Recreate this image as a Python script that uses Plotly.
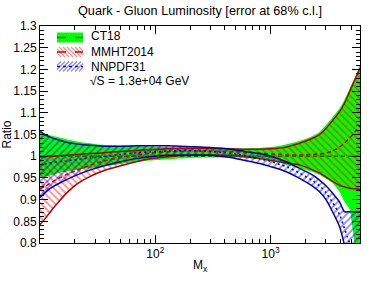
import plotly.graph_objects as go

# ---------------- data ----------------
mass_ct18 = [10, 12, 14.3, 17, 21, 27, 36, 50, 70, 90, 130, 200, 300, 450, 600, 800,
             1000, 1200, 1400, 1782, 2340, 2655, 3020, 3443, 3955, 4371, 4830, 5100,
             5400, 5700, 5957]
ct18_upper = [1.055, 1.049, 1.044, 1.039, 1.034, 1.030, 1.026, 1.024, 1.023, 1.022, 1.021,
              1.020, 1.019, 1.018, 1.018, 1.019, 1.021, 1.024, 1.028, 1.035, 1.047, 1.056,
              1.072, 1.090, 1.110, 1.130, 1.155, 1.168, 1.182, 1.196, 1.210]
ct18_lower = [0.950, 0.955, 0.961, 0.965, 0.969, 0.972, 0.976, 0.982, 0.987, 0.990, 0.993,
              0.996, 0.997, 0.997, 0.996, 0.993, 0.990, 0.985, 0.979, 0.972, 0.963, 0.957,
              0.948, 0.938, 0.918, 0.895, 0.878, 0.840, 0.790, 0.750, 0.720]
ct18_central = [1.0, 1.0, 1.0, 1.0, 1.0, 1.0, 1.0, 1.0, 1.0, 1.0, 1.0, 1.0, 1.0, 1.0, 1.0,
                1.0, 1.0, 1.0, 1.0, 1.0, 1.0, 1.0, 1.0, 1.0, 1.0, 1.0, 1.0, 1.0, 1.0, 1.0, 1.0]

mass_mmht = [10, 11, 12, 13, 14.3, 17, 21, 27, 36, 50, 70, 90, 130, 200, 300, 450, 600, 800,
             1000, 1200, 1400, 1782, 2340, 2655, 3020, 3443, 3955, 4371, 4830, 5338, 5957]
mmht_upper = [0.999, 0.999, 1.000, 1.000, 1.001, 1.002, 1.004, 1.006, 1.008, 1.011, 1.013,
              1.015, 1.017, 1.018, 1.018, 1.017, 1.016, 1.016, 1.017, 1.019, 1.022, 1.030,
              1.042, 1.050, 1.064, 1.082, 1.102, 1.122, 1.148, 1.175, 1.203]
mmht_central = [0.925, 0.930, 0.936, 0.942, 0.948, 0.958, 0.968, 0.979, 0.989, 0.997, 1.003,
                1.007, 1.010, 1.012, 1.012, 1.011, 1.009, 1.007, 1.005, 1.004, 1.003, 1.003,
                1.004, 1.005, 1.007, 1.012, 1.021, 1.030, 1.042, 1.055, 1.070]
mmht_lower = [0.842, 0.855, 0.868, 0.880, 0.893, 0.915, 0.936, 0.953, 0.967, 0.978, 0.988,
              0.994, 0.999, 1.002, 1.003, 1.002, 0.999, 0.995, 0.990, 0.987, 0.984, 0.980,
              0.968, 0.961, 0.952, 0.942, 0.933, 0.929, 0.926, 0.925, 0.924]

mass_nnpdf = [10, 11, 12, 13, 14.3, 17, 21, 27, 36, 50, 70, 90, 130, 200, 300, 450, 600, 800,
              1000, 1200, 1400, 1782, 2340, 2655, 3020, 3443, 3955, 4371, 4830, 5338, 5957]
nnpdf_upper = [1.057, 1.050, 1.045, 1.041, 1.038, 1.032, 1.028, 1.025, 1.023, 1.023, 1.024,
               1.024, 1.024, 1.022, 1.020, 1.016, 1.011, 1.006, 1.000, 0.993, 0.986, 0.972,
               0.956, 0.945, 0.932, 0.915, 0.895, 0.872, 0.872, 0.872, 0.872]
nnpdf_central = [0.980, 0.982, 0.984, 0.986, 0.987, 0.989, 0.992, 0.996, 0.999, 1.004, 1.008,
                 1.010, 1.012, 1.013, 1.011, 1.007, 1.001, 0.994, 0.988, 0.981, 0.975, 0.961,
                 0.943, 0.932, 0.916, 0.893, 0.866, 0.833, 0.800, 0.760, 0.720]
nnpdf_lower = [0.905, 0.915, 0.924, 0.930, 0.936, 0.946, 0.957, 0.968, 0.978, 0.987, 0.995,
               0.999, 1.002, 1.003, 1.002, 0.997, 0.990, 0.983, 0.976, 0.970, 0.963, 0.949,
               0.930, 0.918, 0.900, 0.872, 0.838, 0.795, 0.740, 0.680, 0.600]

series_names = ["CT18", "MMHT2014", "NNPDF31"]
energy_label = "√S = 1.3e+04 GeV"
title_text = "Quark - Gluon Luminosity [error at 68% c.l.]"
x_title = "M<sub>x</sub>"
y_title = "Ratio"

x_tick_vals = [100, 1000]
x_tick_text = ["10<sup>2</sup>", "10<sup>3</sup>"]
x_minor_vals = [20, 30, 40, 50, 60, 70, 80, 90, 200, 300, 400, 500, 600, 700, 800, 900,
                2000, 3000, 4000, 5000]
y_tick_vals = [0.8, 0.85, 0.9, 0.95, 1.0, 1.05, 1.1, 1.15, 1.2, 1.25, 1.3]
y_tick_text = ["0.8", "0.85", "0.9", "0.95", "1", "1.05", "1.1", "1.15", "1.2", "1.25", "1.3"]

# ---------------- styles ----------------
FONT = "Liberation Sans, Arial, Helvetica, sans-serif"
GREEN = "#00ff00"
GREEN_LINE = "#007a00"
RED_HATCH = "#ff0000"
RED_LINE = "#b00000"
BLUE_HATCH = "#0000ff"
BLUE_LINE = "#0000b0"

W, H = 374, 286
PL, PR, PT, PB = 40, 360, 26, 243  # plot area in pixels


def px_x(px):
    return (px - PL) / (PR - PL)


def px_y(py):
    return (PB - py) / (PB - PT)


def band(x, lo, hi, **kw):
    xs = list(x) + list(x)[::-1]
    ys = list(hi) + list(lo)[::-1]
    return go.Scatter(x=xs, y=ys, mode="lines", fill="toself",
                      line=dict(width=0, color="rgba(0,0,0,0)", shape="spline", smoothing=0.6),
                      hoverinfo="skip", showlegend=False, **kw)


def curve(x, y, color, dash="solid", width=1.5):
    return go.Scatter(x=x, y=y, mode="lines",
                      line=dict(color=color, width=width, dash=dash, shape="spline",
                                smoothing=0.6),
                      hoverinfo="skip", showlegend=False)


fig = go.Figure()

# bands
fig.add_trace(band(mass_ct18, ct18_lower, ct18_upper, fillcolor=GREEN))
fig.add_trace(band(mass_mmht, mmht_lower, mmht_upper, fillcolor="rgba(0,0,0,0)",
                   fillpattern=dict(shape="\\", fgcolor=RED_HATCH, fgopacity=0.45,
                                    size=5, solidity=0.35)))
fig.add_trace(band(mass_nnpdf, nnpdf_lower, nnpdf_upper, fillcolor="rgba(0,0,0,0)",
                   fillpattern=dict(shape="/", fgcolor=BLUE_HATCH, fgopacity=0.45,
                                    size=5, solidity=0.35)))

# lines
fig.add_trace(curve(mass_ct18, ct18_central, GREEN_LINE, dash="4px,3px"))
fig.add_trace(curve(mass_mmht, mmht_upper, RED_LINE))
fig.add_trace(curve(mass_mmht, mmht_lower, RED_LINE))
fig.add_trace(curve(mass_mmht, mmht_central, "#cc0000", dash="4px,3px"))
fig.add_trace(curve(mass_nnpdf, nnpdf_upper, BLUE_LINE))
fig.add_trace(curve(mass_nnpdf, nnpdf_lower, BLUE_LINE))
fig.add_trace(curve(mass_nnpdf, nnpdf_central, "#0000cc", dash="2px,3px"))

# ---------------- manual legend ----------------
shapes = []
annotations = []
sw_x0, sw_x1 = 57, 83
rows = [(32.5, 42.5), (47, 57), (61.5, 71.5)]
text_y = [36.5, 52.0, 66.8]
fills = [GREEN, None, None]
hatch = [None, ("\\", "rgba(255,0,0,0.45)"), ("/", "rgba(0,0,255,0.45)")]
mid_lines = [(GREEN_LINE, "dash"), ("#cc0000", "dash"), ("#0000cc", "dot")]


def hatch_path(x0, x1, y0, y1, direction, step=4.0):
    segs = []
    h = y1 - y0
    k = -h
    while k < (x1 - x0):
        if direction == "\\":
            ax, ay = x0 + k, y0
            bx, by = x0 + k + h, y1
        else:
            ax, ay = x0 + k, y1
            bx, by = x0 + k + h, y0
        t0 = max(0.0, (x0 - ax) / (bx - ax))
        t1 = min(1.0, (x1 - ax) / (bx - ax))
        if t1 > t0:
            sx, sy = ax + (bx - ax) * t0, ay + (by - ay) * t0
            ex, ey = ax + (bx - ax) * t1, ay + (by - ay) * t1
            segs.append("M%.4f,%.4f L%.4f,%.4f" % (px_x(sx), px_y(sy), px_x(ex), px_y(ey)))
        k += step
    return " ".join(segs)


for i, (y0, y1) in enumerate(rows):
    if fills[i]:
        shapes.append(dict(type="rect", xref="paper", yref="paper",
                           x0=px_x(sw_x0), x1=px_x(sw_x1), y0=px_y(y1), y1=px_y(y0),
                           fillcolor=fills[i], line=dict(width=0), layer="above"))
    if hatch[i]:
        d, col = hatch[i]
        shapes.append(dict(type="path", xref="paper", yref="paper",
                           path=hatch_path(sw_x0, sw_x1, y0, y1, d),
                           line=dict(color=col, width=1.3), layer="above"))
    lc, ld = mid_lines[i]
    ym = (y0 + y1) / 2
    shapes.append(dict(type="line", xref="paper", yref="paper",
                       x0=px_x(sw_x0), x1=px_x(sw_x1), y0=px_y(ym), y1=px_y(ym),
                       line=dict(color=lc, width=1.5, dash=ld), layer="above"))
    annotations.append(dict(text=series_names[i], xref="paper", yref="paper",
                            x=px_x(89), y=px_y(text_y[i]), xanchor="left", yanchor="middle",
                            showarrow=False, font=dict(family=FONT, size=12, color="black")))

annotations.append(dict(text=energy_label, xref="paper", yref="paper",
                        x=px_x(88), y=px_y(80.7), xanchor="left", yanchor="middle",
                        showarrow=False, font=dict(family=FONT, size=12, color="black")))

fig.update_layout(
    width=W, height=H,
    margin=dict(l=PL, r=W - PR, t=PT, b=H - PB, pad=0),
    paper_bgcolor="white", plot_bgcolor="white",
    font=dict(family=FONT, size=12, color="black"),
    showlegend=False,
    hovermode=False,
    title=dict(text=title_text, x=0.5, xref="paper", xanchor="center",
               y=1 - 10.5 / H, yref="container", yanchor="middle",
               font=dict(family=FONT, size=12.7, color="black")),
    shapes=shapes,
    annotations=annotations,
    xaxis=dict(type="log", range=[1, 3.775], showgrid=False, zeroline=False,
               showline=True, linecolor="black", linewidth=1, mirror="allticks",
               ticks="inside", ticklen=8, tickwidth=1, tickcolor="black",
               tickmode="array", tickvals=x_tick_vals, ticktext=x_tick_text,
               tickfont=dict(family=FONT, size=12, color="black"),
               title=dict(text=x_title, standoff=0,
                          font=dict(family=FONT, size=12, color="black")),
               minor=dict(tickmode="array", tickvals=x_minor_vals, ticks="inside",
                          ticklen=4, tickwidth=1, tickcolor="black", showgrid=False),
               automargin=False),
    yaxis=dict(range=[0.8, 1.3], showgrid=False, zeroline=False,
               showline=True, linecolor="black", linewidth=1, mirror="allticks",
               ticks="inside", ticklen=8, tickwidth=1, tickcolor="black",
               tickmode="array", tickvals=y_tick_vals, ticktext=y_tick_text,
               tickfont=dict(family=FONT, size=12, color="black"),
               title=dict(text=y_title, standoff=0,
                          font=dict(family=FONT, size=12, color="black")),
               minor=dict(dtick=0.01, tick0=0.8, ticks="inside", ticklen=4, tickwidth=1,
                          tickcolor="black", showgrid=False),
               automargin=False),
)

fig.write_html("out.html", config={"displayModeBar": False, "staticPlot": True},
               post_script="document.body.style.margin='0px';")
